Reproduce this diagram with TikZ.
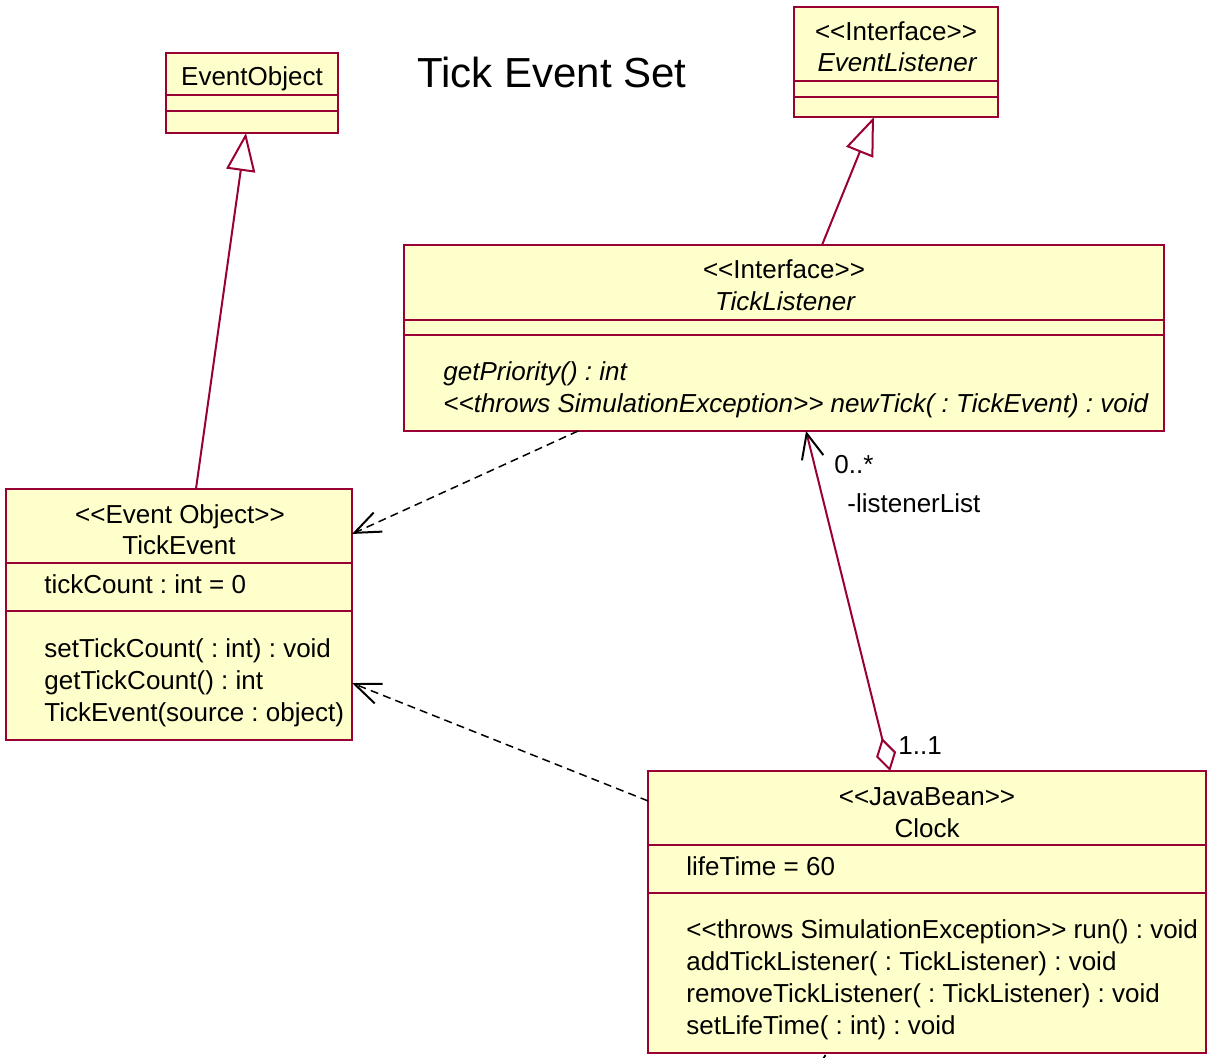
\documentclass[tikz,border=0pt]{standalone}
\usepackage{fontspec}
\setmainfont{Liberation Sans}
\usetikzlibrary{arrows.meta,calc}
\definecolor{umlred}{RGB}{153,0,51}
\definecolor{umlfill}{RGB}{255,255,204}
% stereotype brackets, kept apart so they are not turned into guillemets
\newcommand\stereo[1]{<{}<#1>{}>}
\frenchspacing
\begin{document}
\begin{tikzpicture}[x=0.5pt,y=-0.5pt,
  classbox/.style={draw=umlred, fill=umlfill, line width=1pt, inner sep=0pt, outer sep=0pt, anchor=north west},
  compart/.style={draw=umlred, line width=1pt},
  txt/.style={font=\fontsize{13}{15}\selectfont, inner sep=0pt, text=black},
  head/.style={txt, anchor=base},
  member/.style={txt, anchor=base west},
  gen/.style={draw=umlred, line width=1pt, -{Triangle[open, length=19pt, width=14.5pt, line width=1pt]}},
  dep/.style={draw=black, line width=0.75pt, dash pattern=on 4pt off 2.6pt,
    -{Straight Barb[length=13pt, width=10.5pt, line width=1pt]}},
  assoc/.style={draw=umlred, line width=1pt,
    {Diamond[open, length=17pt, width=10.3pt, line width=1pt]}-{Straight Barb[color=black, length=12.5pt, width=11pt, line width=1pt]}}
]
\useasboundingbox[fill=white] (0,0) rectangle (1209,1057);

% ---- class boxes ----
\node[classbox, minimum width=86pt,  minimum height=40pt]    (eo) at (166,53)  {};
\node[classbox, minimum width=102pt, minimum height=55pt]    (el) at (794,7)   {};
\node[classbox, minimum width=380pt, minimum height=93pt]    (tl) at (404,245) {};
\node[classbox, minimum width=173pt, minimum height=125.5pt] (te) at (6,489)   {};
\node[classbox, minimum width=279pt, minimum height=141pt]   (ck) at (648,771) {};

% ---- compartment separators ----
\foreach \b/\o in {eo/42, eo/58, el/74, el/90, tl/75, tl/90, te/74, te/122, ck/74, ck/122}
  \draw[compart] ($(\b.north west)+(0,\o)$) -- ($(\b.north east)+(0,\o)$);

% ---- title ----
\node[txt, font=\fontsize{21}{25}\selectfont, anchor=base west] (title) at (417,87) {Tick Event Set};

% ---- EventObject ----
\node[head] (eoName) at (252,85) {EventObject};

% ---- EventListener ----
\node[head] (elSt)   at (896,40) {\stereo{Interface}};
\node[head] (elName) at (897,71) {\itshape EventListener};

% ---- TickListener ----
\node[head] (tlSt)   at (784,278) {\stereo{Interface}};
\node[head] (tlName) at (785,310) {\itshape TickListener};
\node[member] (tlOp1) at (443,380) {\itshape getPriority() : int};
\node[member] (tlOp2) at (443,412) {\itshape \stereo{throws SimulationException} newTick( : TickEvent) : void};

% ---- TickEvent ----
\node[head] (teSt)   at (180,523) {\stereo{Event Object}};
\node[head] (teName) at (179,554) {TickEvent};
\node[member] (teAt1) at (44,593) {tickCount : int = 0};
\node[member] (teOp1) at (44,657) {setTickCount( : int) : void};
\node[member] (teOp2) at (44,689) {getTickCount() : int};
\node[member] (teOp3) at (44,721) {TickEvent(source : object)};

% ---- Clock ----
\node[head] (ckSt)   at (927,805) {\stereo{JavaBean}};
\node[head] (ckName) at (927,837) {Clock};
\node[member] (ckAt1) at (686,875) {lifeTime = 60};
\node[member] (ckOp1) at (686,938) {\stereo{throws SimulationException} run() : void};
\node[member] (ckOp2) at (686,970) {addTickListener( : TickListener) : void};
\node[member] (ckOp3) at (686,1002) {removeTickListener( : TickListener) : void};
\node[member] (ckOp4) at (686,1034) {setLifeTime( : int) : void};

% ---- generalizations ----
\draw[gen] ($(te.north west)!0.549!(te.north east)$) -- ($(eo.south west)!0.465!(eo.south east)$);
\draw[gen] ($(tl.north west)!0.55!(tl.north east)$) -- ($(el.south west)!0.392!(el.south east)$);

% ---- dependencies ----
\draw[dep] ($(tl.south west)!0.229!(tl.south east)$) -- ($(te.north east)!0.179!(te.south east)$);
\draw[dep] ($(ck.north west)!0.106!(ck.south west)$) -- ($(te.north east)!0.773!(te.south east)$);

% ---- aggregation Clock -> TickListener ----
\draw[assoc] ($(ck.north west)!0.434!(ck.north east)$) -- ($(tl.south west)!0.529!(tl.south east)$);
\node[member] (mulTop) at (834,473) {0..*};
\node[member] (role)   at (847,512) {-listenerList};
\node[member] (mulBot) at (898,754) {1..1};

% ---- connector leaving the bottom of Clock ----
\coordinate (ckOut) at (821,1063);
\draw[black, line width=0.9pt] ($(ck.south west)!0.318!(ck.south east)+(0,2)$) -- (ckOut);
\end{tikzpicture}
\end{document}
